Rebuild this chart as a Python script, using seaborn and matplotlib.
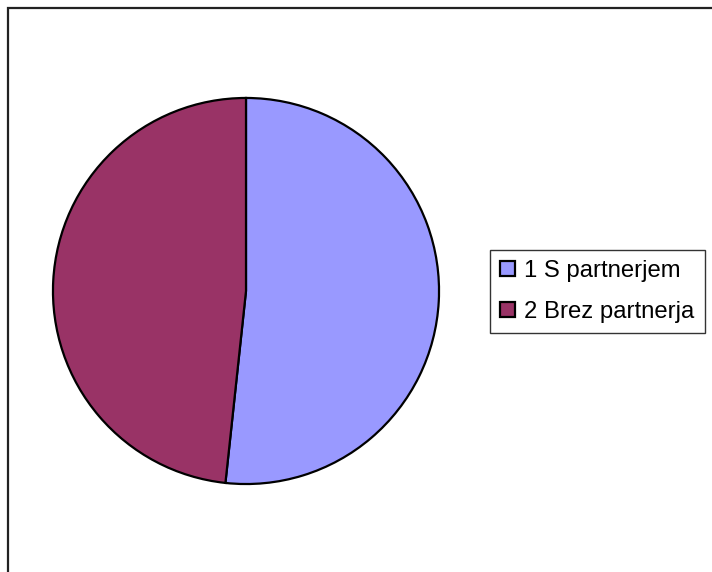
import matplotlib
matplotlib.use("Agg")
import matplotlib.pyplot as plt
import seaborn as sns
from matplotlib.patches import Rectangle, Patch

categories = ["1 S partnerjem", "2 Brez partnerja"]
values = [51.7, 48.3]
colors = ["#9999FF", "#993366"]

sns.set_theme(style="white")
plt.rcParams["font.family"] = ["Liberation Sans", "DejaVu Sans"]
plt.rcParams["text.color"] = "black"

W, H = 712, 572
fig = plt.figure(figsize=(W / 100, H / 100), dpi=100)
fig.patch.set_facecolor("white")

# outer frame (top and left visible)
fig.patches.append(Rectangle((8 / W, -0.05), 1.2, 1 - 8 / H + 0.05,
                             transform=fig.transFigure, fill=False,
                             edgecolor="#222222", linewidth=1.6))

cx, cy, r = 246, 291, 194
ax = fig.add_axes([(cx - r) / W, (H - cy - r) / H, 2 * r / W, 2 * r / H])
ax.pie(values, colors=colors, startangle=90, counterclock=False, radius=1,
       wedgeprops=dict(edgecolor="black", linewidth=1.6))
ax.set_xlim(-1.005, 1.005)
ax.set_ylim(-1.005, 1.005)
ax.set_axis_off()

handles = [Patch(facecolor=c, edgecolor="black", linewidth=1.6) for c in colors]
leg = fig.legend(handles, categories, loc="upper left",
                 bbox_to_anchor=(490 / W, 1 - 250 / H), borderaxespad=0,
                 fontsize=17.2, frameon=True, fancybox=False,
                 handlelength=0.62, handleheight=0.62, handletextpad=0.4,
                 labelspacing=0.78, borderpad=0.42)
leg.get_frame().set_edgecolor("black")
leg.get_frame().set_linewidth(1.0)
for t in leg.get_texts():
    t.set_color("black")

fig.savefig("out.png", dpi=100, facecolor="white")
